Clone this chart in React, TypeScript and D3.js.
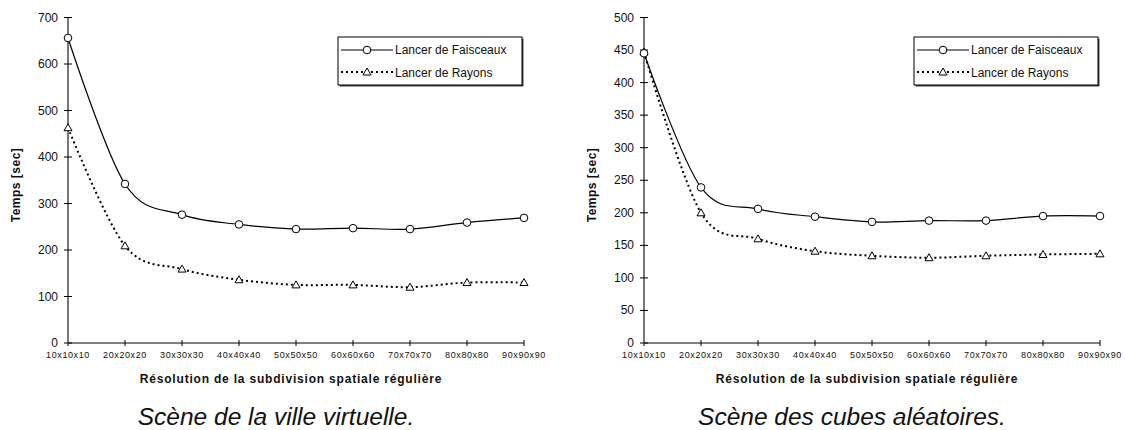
import React from "react";
import * as d3 from "d3";

const categories = ["10x10x10", "20x20x20", "30x30x30", "40x40x40", "50x50x50", "60x60x60", "70x70x70", "80x80x80", "90x90x90"];
const seriesNames = ["Lancer de Faisceaux", "Lancer de Rayons"];

const villeFaisceaux = [656, 342, 276, 255, 245, 247, 245, 259, 269];
const villeRayons = [463, 209, 159, 136, 125, 125, 120, 130, 130];
const villeTicks = [0, 100, 200, 300, 400, 500, 600, 700];

const cubesFaisceaux = [445, 239, 206, 194, 186, 188, 188, 195, 195];
const cubesRayons = [447, 200, 160, 141, 134, 131, 134, 136, 137];
const cubesTicks = [0, 50, 100, 150, 200, 250, 300, 350, 400, 450, 500];

const yLabel = "Temps [sec]";
const xLabel = "Résolution de la subdivision spatiale régulière";
const titles = ["Scène de la ville virtuelle.", "Scène des cubes aléatoires."];

const FONT = "Arial, 'Liberation Sans', sans-serif";

type PanelProps = {
  x0: number;
  x1: number;
  yMax: number;
  ticks: number[];
  a: number[];
  b: number[];
  title: string;
  titleX: number;
  legendX: number;
};

function Triangle({ x, y }: { x: number; y: number }) {
  const s = 4;
  return (
    <path
      d={`M${x},${y - s}L${x + s},${y + s * 0.75}L${x - s},${y + s * 0.75}Z`}
      fill="white"
      stroke="black"
      strokeWidth={1}
    />
  );
}

function Panel({ x0, x1, yMax, ticks, a, b, title, titleX, legendX }: PanelProps) {
  const top = 17.5;
  const bottom = 343;
  const x = d3.scalePoint<string>().domain(categories).range([x0, x1]);
  const y = d3.scaleLinear().domain([0, yMax]).range([bottom, top]);
  const line = d3
    .line<number>()
    .x((_, i) => x(categories[i]) as number)
    .y((d) => y(d))
    .curve(d3.curveCatmullRom.alpha(0));
  const cx = (x0 + x1) / 2;
  const lw = 184;
  const lh = 48;
  const ly = 37;
  return (
    <g>
      {/* x axis */}
      <line x1={x0} x2={x1} y1={bottom} y2={bottom} stroke="black" strokeWidth={1} />
      {categories.map((c) => (
        <g key={c}>
          <line x1={x(c)} x2={x(c)} y1={bottom - 3} y2={bottom + 3} stroke="black" strokeWidth={1} />
          <text x={x(c)} y={358} textAnchor="middle" fontSize={9} letterSpacing={0.6} fontFamily={FONT} fill="#111">
            {c}
          </text>
        </g>
      ))}
      {/* y axis */}
      <line x1={x0} x2={x0} y1={top} y2={bottom} stroke="#777" strokeWidth={2} />
      {ticks.map((t) => (
        <g key={t}>
          <line x1={x0 - 4} x2={x0 + 4} y1={y(t)} y2={y(t)} stroke="black" strokeWidth={1} />
          <text x={x0 - 10} y={y(t) + 4} textAnchor="end" fontSize={12} fontFamily={FONT} fill="#111">
            {t}
          </text>
        </g>
      ))}
      <text
        transform={`translate(${x0 - 48},185) rotate(-90)`}
        textAnchor="middle"
        fontSize={12}
        letterSpacing={0.5}
        fontWeight="bold"
        fontFamily={FONT}
        fill="#111"
      >
        {yLabel}
      </text>
      <text x={cx - 5} y={383} textAnchor="middle" fontSize={12} letterSpacing={0.8} fontWeight="bold" fontFamily={FONT} fill="#111">
        {xLabel}
      </text>
      <text x={titleX} y={425} textAnchor="middle" fontSize={24.5} fontStyle="italic" fontFamily={FONT} fill="#111">
        {title}
      </text>
      {/* series */}
      <path d={line(b) || ""} fill="none" stroke="black" strokeWidth={2} strokeDasharray="2,3" />
      <path d={line(a) || ""} fill="none" stroke="black" strokeWidth={1.2} />
      {b.map((v, i) => (
        <Triangle key={"t" + i} x={x(categories[i]) as number} y={y(v)} />
      ))}
      {a.map((v, i) => (
        <circle key={"c" + i} cx={x(categories[i])} cy={y(v)} r={3.8} fill="white" stroke="black" strokeWidth={1} />
      ))}
      {/* legend */}
      <rect x={legendX + 1.5} y={ly + 1.5} width={lw} height={lh} fill="#444" />
      <rect x={legendX} y={ly} width={lw} height={lh} fill="white" stroke="black" strokeWidth={1} />
      <line x1={legendX + 3} x2={legendX + 55} y1={ly + 13} y2={ly + 13} stroke="black" strokeWidth={1.2} />
      <circle cx={legendX + 29} cy={ly + 13} r={3.8} fill="white" stroke="black" strokeWidth={1} />
      <text x={legendX + 57} y={ly + 17} fontSize={12} fontFamily={FONT} fill="#111">
        {seriesNames[0]}
      </text>
      <line x1={legendX + 3} x2={legendX + 55} y1={ly + 35} y2={ly + 35} stroke="black" strokeWidth={2} strokeDasharray="2,3" />
      <Triangle x={legendX + 29} y={ly + 35} />
      <text x={legendX + 57} y={ly + 39.5} fontSize={12} fontFamily={FONT} fill="#111">
        {seriesNames[1]}
      </text>
    </g>
  );
}

export default function App() {
  return (
    <svg
      width={1125}
      height={430}
      style={{ position: "absolute", left: 0, top: 0, display: "block", background: "white" }}
    >
      <rect width={1125} height={430} fill="white" />
      <Panel x0={68} x1={524} yMax={700} ticks={villeTicks} a={villeFaisceaux} b={villeRayons} title={titles[0]} titleX={276} legendX={338} />
      <Panel x0={644} x1={1100} yMax={500} ticks={cubesTicks} a={cubesFaisceaux} b={cubesRayons} title={titles[1]} titleX={852} legendX={914} />
    </svg>
  );
}
